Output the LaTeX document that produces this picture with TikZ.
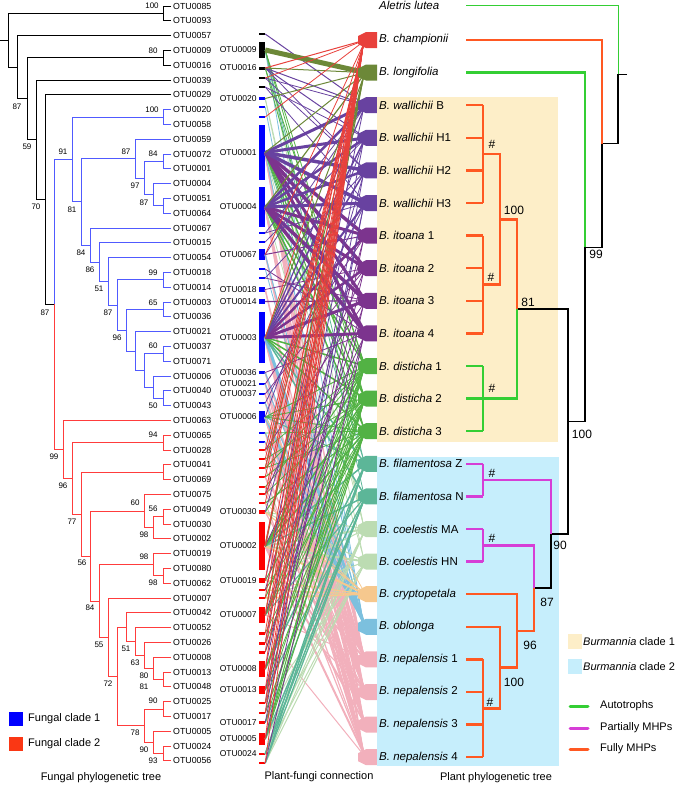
\documentclass[tikz,border=0pt]{standalone}
\usepackage{fontspec}
\setmainfont{Liberation Sans}
\definecolor{pRed}{RGB}{232,65,60}
\definecolor{pOlive}{RGB}{108,136,56}
\definecolor{pPur}{RGB}{104,66,160}
\definecolor{pIto}{RGB}{124,52,142}
\definecolor{pGrn}{RGB}{82,178,68}
\definecolor{pTeal}{RGB}{92,182,152}
\definecolor{pLgrn}{RGB}{188,220,178}
\definecolor{pOrg}{RGB}{246,200,142}
\definecolor{pBlu}{RGB}{124,192,222}
\definecolor{pPnk}{RGB}{242,176,188}
\definecolor{cBeige}{RGB}{253,238,200}
\definecolor{cSky}{RGB}{198,238,252}
\definecolor{tOrg}{RGB}{255,88,34}
\definecolor{tGrn}{RGB}{52,206,52}
\definecolor{tMag}{RGB}{214,62,214}
\definecolor{fBlu}{RGB}{80,90,255}
\definecolor{fRed}{RGB}{255,60,60}
\definecolor{bBlu}{RGB}{0,0,255}
\definecolor{bRed}{RGB}{255,0,0}
\definecolor{lRed}{RGB}{250,55,20}
\tikzset{
  kb/.style={draw=black, line width=0.9pt},
  kbl/.style={draw=fBlu, line width=1pt},
  kr/.style={draw=fRed, line width=1pt},
  otu/.style={anchor=west, inner sep=0pt, font=\fontsize{8.8}{10}\selectfont},
  bs/.style={inner sep=0pt, font=\fontsize{8}{9}\selectfont},
  mlab/.style={anchor=east, inner sep=0pt, font=\fontsize{8.5}{10}\selectfont},
  fbar/.style={rectangle, inner sep=0pt, minimum width=6pt, draw=none},
  lk/.style={line cap=butt},
  plab/.style={anchor=west, inner sep=0pt, font=\fontsize{11.5}{13}\selectfont},
  rt/.style={line width=2.4pt, line cap=butt, line join=miter},
  rk/.style={draw=black, line width=1.5pt, line join=miter},
  rbs/.style={inner sep=0pt, font=\fontsize{12}{14}\selectfont},
  leg/.style={anchor=west, inner sep=0pt, font=\fontsize{11}{13}\selectfont},
  ttl/.style={inner sep=0pt, font=\fontsize{11}{13}\selectfont},
}
\newcommand\brk[6]{\draw[#1] (#3,#4) -| (#2,#6) -- (#5,#6);}
% link: colour, width, fungal bar name, plant index
\newcommand\lnk[4]{%
  \pgfmathsetmacro\lkoff{max(-6,min(6,(\csname fy#3\endcsname-(40+32.6*#4))/40))}%
  \draw[lk,#1,line width=#2pt] (#3.east) -- ([yshift={-1*\lkoff}]p#4);}
\begin{document}
\begin{tikzpicture}[x=1pt,y=-1pt]
\useasboundingbox (0,0) rectangle (675,785);
% ---------------- fungal tree ----------------
\foreach \n [count=\i from 0] in {0085,0093,0057,0009,0016,0039,0029,0020,0058,0059,0072,0001,0004,0051,0064,0067,0015,0054,0018,0014,0003,0036,0021,0037,0071,0006,0040,0043,0063,0065,0028,0041,0069,0075,0049,0030,0002,0019,0080,0062,0007,0042,0052,0026,0008,0013,0048,0025,0017,0005,0024,0056}
  {\node[otu] (t\n) at (173,{6+14.8*\i}) {OTU\n};}
% black part
\brk{kb}{163}{171}{6}{171}{20.8}
\brk{kb}{163}{171}{50.4}{171}{65.2}
\brk{kb}{27}{163}{57.8}{36}{139.8}
\brk{kb}{36}{171}{80}{45}{199.6}
\brk{kb}{45}{171}{94.8}{54}{304.4}
\brk{kb}{17}{171}{35.6}{27}{98.8}
\brk{kb}{8}{163}{13.4}{17}{67.2}
\draw[kb] (0,40.3) -- (8,40.3);
\draw[kbl] (72,159.4) -| (54,304.4);
\draw[kr] (54,304.4) |- (63,449.4);
% blue clade
\brk{kbl}{163}{171}{109.6}{171}{124.4}
\brk{kbl}{163}{171}{154}{171}{168.8}
\brk{kbl}{163}{171}{198.4}{171}{213.2}
\brk{kbl}{153}{171}{183.6}{163}{205.8}
\brk{kbl}{144}{163}{161.4}{153}{194.7}
\brk{kbl}{135}{171}{139.2}{144}{178.05}
\brk{kbl}{163}{171}{272.4}{171}{287.2}
\brk{kbl}{163}{171}{302}{171}{316.8}
\brk{kbl}{163}{171}{346.4}{171}{361.2}
\brk{kbl}{163}{171}{390.8}{171}{405.6}
\brk{kbl}{153}{171}{376}{163}{398.2}
\brk{kbl}{144}{163}{353.8}{153}{387.1}
\brk{kbl}{135}{171}{331.6}{144}{370.45}
\brk{kbl}{126}{163}{309.4}{135}{351}
\brk{kbl}{117}{163}{279.8}{126}{330.2}
\brk{kbl}{108}{171}{257.6}{117}{305}
\brk{kbl}{99}{171}{242.8}{108}{281.3}
\brk{kbl}{90}{171}{228}{99}{262}
\brk{kbl}{81}{135}{158.6}{90}{245}
\brk{kbl}{72}{163}{117}{81}{201.8}
% red clade
\brk{kr}{163}{171}{435.2}{171}{450}
\brk{kr}{163}{171}{464.8}{171}{479.6}
\brk{kr}{163}{171}{509.2}{171}{524}
\brk{kr}{153}{163}{516.6}{171}{538.8}
\brk{kr}{144}{171}{494.4}{153}{527.7}
\brk{kr}{163}{171}{568.4}{171}{583.2}
\brk{kr}{153}{171}{553.6}{163}{575.8}
\brk{kr}{163}{171}{672}{171}{686.8}
\brk{kr}{153}{171}{657.2}{163}{679.4}
\brk{kr}{144}{171}{642.4}{153}{668.3}
\brk{kr}{135}{171}{627.6}{144}{655.3}
\brk{kr}{126}{171}{612.8}{135}{641.5}
\brk{kr}{163}{171}{701.6}{171}{716.4}
\brk{kr}{163}{171}{746}{171}{760.8}
\brk{kr}{153}{171}{731.2}{163}{753.4}
\brk{kr}{144}{163}{709}{153}{742.3}
\brk{kr}{117}{126}{627.2}{144}{725.7}
\brk{kr}{108}{171}{598}{117}{676.4}
\brk{kr}{99}{153}{564.7}{108}{637.2}
\brk{kr}{90}{144}{511}{99}{601}
\brk{kr}{81}{163}{472.2}{90}{556}
\brk{kr}{72}{163}{442.6}{81}{514.1}
\brk{kr}{63}{171}{420.4}{72}{478.4}
% bootstrap values
\foreach \x/\y/\t [count=\j] in {152/6/100,153/51/80,17/107/87,27/147/59,152/110/100,63/152/91,126/152/87,153/154/84,135/186/97,36/207/70,72/210/81,144/203/87,81/253/84,90/270/86,99/289/51,153/273/99,153/303/65,45/313/87,108/313/87,117/338/96,153/346/60,153/406/50,153/435/94,54/457/99,63/486/96,135/503/60,153/509/56,72/522/77,144/535/98,144/557/98,82/563/56,153/583/98,90/608/84,99/645/55,126/649/51,135/663/63,144/676/80,144/687/81,108/684/72,153/701/90,135/733/78,144/750/90,153/761/93}
  {\node[bs] (bs\j) at (\x,\y) {\t};}
% ---------------- fungal bars ----------------
\foreach \nm/\yy/\h/\c in {f1/34/2/black,f2/50/16/black,f3/68/3/black,f4/78/2/black,f5/87/2/black,f6/98.5/3/bBlu,f7/107/2/bBlu,f8/117/2/bBlu,f9/152.5/55/bBlu,f10/207/40/bBlu,f11/233/1.5/bBlu,f12/242/1.5/bBlu,f13/254.5/11/bBlu,f14/269/2/bBlu,f15/278/1.5/bBlu,f16/289.5/5/bBlu,f17/301.5/5/bBlu,f18/337.5/51/bBlu,f19/372.5/3/bBlu,f20/384/2.5/bBlu,f21/394/2.5/bBlu,f22/403/1.5/bBlu,f23/417/12/bBlu,f24/433/2/bBlu,f25/442/1.5/bBlu,f26/450/2/bRed,f27/459/2/bRed,f28/468/2.5/bRed,f29/477/2.5/bRed,f30/487/1.5/bRed,f31/494/2/bRed,f32/503/2/bRed,f33/512/3.5/bRed,f34/546/48/bRed,f35/580.5/5/bRed,f36/590/1.5/bRed,f37/598/2/bRed,f38/615/16/bRed,f39/633/3/bRed,f40/643/3/bRed,f41/652/3/bRed,f42/669/16/bRed,f43/690/8/bRed,f44/703/2.5/bRed,f45/713/2.5/bRed,f46/722.5/3/bRed,f47/739/12/bRed,f48/754/2.5/bRed,f49/763/2/bRed}
  {\node[fbar, fill=\c, minimum height=\h pt] (\nm) at (262,\yy) {};
   \expandafter\xdef\csname fy\nm\endcsname{\yy}}
\foreach \nm/\t in {f2/0009,f3/0016,f6/0020,f9/0001,f10/0004,f13/0067,f16/0018,f17/0014,f18/0003,f19/0036,f20/0021,f21/0037,f23/0006,f33/0030,f34/0002,f35/0019,f38/0007,f42/0008,f43/0013,f46/0017,f47/0005,f48/0024}
  {\node[mlab] (m\t) at ([xshift=-2pt]\nm.west) {OTU\t};}
% ---------------- plant anchor points ----------------
\foreach \k in {0,...,22} {\coordinate (p\k) at (363,{40+32.6*\k});}
% ---------------- links ----------------
\foreach \f/\w in {f9/1.5,f10/1.5,f18/2.5,f13/1.5,f19/1.5,f23/2,f25/1.2,f27/1.2,f29/1.2,f31/1.2,f34/2,f38/1} {\lnk{pPnk}{\w}{\f}{19}}
\foreach \f/\w in {f9/1.5,f10/1.5,f18/2.5,f13/1.2,f16/1.2,f20/1.5,f23/2,f26/1.2,f33/1.2,f34/2,f36/1} {\lnk{pPnk}{\w}{\f}{20}}
\foreach \f/\w in {f9/1.5,f10/1.5,f18/2.5,f16/1.2,f21/1.5,f22/1.2,f23/2,f25/1.2,f28/1.2,f30/1.2,f34/2} {\lnk{pPnk}{\w}{\f}{21}}
\foreach \f/\w in {f9/1.5,f10/1.5,f18/2.5,f19/1.2,f20/1.2,f24/1.2,f23/2,f29/1.2,f32/1.2,f34/2,f39/1} {\lnk{pPnk}{\w}{\f}{22}}
\foreach \f/\w in {f2/0.8,f7/0.8,f9/1,f13/1,f14/0.8,f18/3,f19/1,f22/1,f23/2.5,f24/1,f25/1,f20/1} {\lnk{pBlu}{\w}{\f}{18}}
\foreach \f/\w in {f2/0.8,f6/0.8,f9/0.8,f33/1,f34/2,f35/1,f46/1,f47/1,f48/1,f49/1} {\lnk{pLgrn}{\w}{\f}{15}}
\foreach \f/\w in {f6/0.8,f10/0.8,f34/2,f33/1,f37/1,f44/1,f47/1,f48/1,f49/1} {\lnk{pLgrn}{\w}{\f}{16}}
\foreach \f/\w in {f33/1.2,f34/2,f35/1.2,f36/1.2,f37/1.5,f32/0.8,f23/0.8} {\lnk{pOrg}{\w}{\f}{17}}
\foreach \f/\w in {f2/0.8,f9/0.8,f18/1.5,f34/1.5,f42/1.5,f46/1.2,f48/1.5,f49/1.5,f23/1} {\lnk{pTeal}{\w}{\f}{13}}
\foreach \f/\w in {f2/0.8,f18/1.5,f34/1.5,f38/1.2,f43/1.2,f47/1.5,f48/1.5,f49/1.2} {\lnk{pTeal}{\w}{\f}{14}}
\foreach \f/\w in {f2/0.8,f3/0.8,f9/1.5,f10/1.5,f18/1.5,f23/1,f26/0.8,f28/1,f30/0.8,f33/1,f34/1.5,f37/1,f38/1,f41/0.8,f43/1,f47/1} {\lnk{pGrn}{\w}{\f}{10}}
\foreach \f/\w in {f2/0.8,f9/1.2,f10/1.5,f18/1.5,f23/1,f27/0.8,f29/1,f31/0.8,f34/1.5,f35/1,f38/1,f40/0.8,f42/1,f44/0.8,f47/1,f46/0.8} {\lnk{pGrn}{\w}{\f}{11}}
\foreach \f/\w in {f3/0.8,f9/1,f10/1.2,f18/1.5,f23/1,f24/0.8,f28/0.8,f32/1,f34/1.5,f36/0.8,f38/1,f39/0.8,f42/1,f43/0.8,f45/1,f47/1} {\lnk{pGrn}{\w}{\f}{12}}
\foreach \f/\w in {f9/3.5,f10/3,f18/2.5,f13/1,f20/0.8,f36/0.8,f46/0.8} {\lnk{pIto}{\w}{\f}{6}}
\foreach \f/\w in {f9/3.5,f10/3,f18/2.5,f16/0.8,f21/0.8,f31/0.8,f43/0.8} {\lnk{pIto}{\w}{\f}{7}}
\foreach \f/\w in {f9/3,f10/3.5,f17/1.2,f18/3,f15/0.8,f26/0.8,f38/0.8,f47/0.8} {\lnk{pIto}{\w}{\f}{8}}
\foreach \f/\w in {f9/3,f10/3.5,f18/3,f14/0.8,f19/0.8,f34/0.8,f41/0.8,f49/0.8} {\lnk{pIto}{\w}{\f}{9}}
\foreach \f/\w in {f1/1,f3/1,f4/0.8,f9/3,f10/2.5,f13/0.8,f18/1.2,f11/0.8,f35/0.8} {\lnk{pPur}{\w}{\f}{2}}
\foreach \f/\w in {f3/1,f5/0.8,f9/3,f10/2.5,f12/0.8,f18/1.5,f40/0.8,f23/0.8} {\lnk{pPur}{\w}{\f}{3}}
\foreach \f/\w in {f3/0.8,f4/0.8,f9/3.5,f10/2.5,f18/1.5,f15/0.8,f44/0.8,f33/0.8} {\lnk{pPur}{\w}{\f}{4}}
\foreach \f/\w in {f5/0.8,f9/3.5,f10/3,f11/0.8,f18/2,f22/0.8,f42/0.8,f45/0.8} {\lnk{pPur}{\w}{\f}{5}}
\foreach \f/\w in {f2/5,f3/1,f6/1,f10/1.2,f18/1,f28/1,f34/1.5,f38/1,f9/1} {\lnk{pOlive}{\w}{\f}{1}}
\foreach \f/\w in {f3/1,f4/0.8,f8/0.8,f13/0.8,f18/0.8,f26/0.8,f27/0.8,f28/0.8,f29/0.8,f31/0.8,f32/0.8,f34/1.2,f35/0.8,f37/0.8,f38/1,f39/0.8,f40/0.8,f41/0.8,f42/1,f43/0.8,f44/0.8,f45/0.8,f47/1,f49/0.8} {\lnk{pRed}{\w}{\f}{0}}
% ---------------- plant bars ----------------
\foreach \k/\c in {0/pRed,1/pOlive,2/pPur,3/pPur,4/pPur,5/pPur,6/pIto,7/pIto,8/pIto,9/pIto,10/pGrn,11/pGrn,12/pGrn,13/pTeal,14/pTeal,15/pLgrn,16/pLgrn,17/pOrg,18/pBlu,19/pPnk,20/pPnk,21/pPnk,22/pPnk}
  {\fill[\c] (358,{40+32.6*\k-4}) -- (366,{40+32.6*\k-8}) -- (377,{40+32.6*\k-8}) -- (377,{40+32.6*\k+8}) -- (366,{40+32.6*\k+8}) -- (358,{40+32.6*\k+4}) -- cycle;}
% ---------------- clade boxes ----------------
\fill[cBeige] (377,97) rectangle (558,442);
\fill[cSky] (377,457) rectangle (559,766);
% ---------------- plant labels ----------------
\node[plab] (aletris) at (379,5) {\textit{Aletris lutea}};
\foreach \k/\t in {0/{\textit{B. championii}},1/{\textit{B. longifolia}},2/{\textit{B. wallichii} B},3/{\textit{B. wallichii} H1},4/{\textit{B. wallichii} H2},5/{\textit{B. wallichii} H3},6/{\textit{B. itoana} 1},7/{\textit{B. itoana} 2},8/{\textit{B. itoana} 3},9/{\textit{B. itoana} 4},10/{\textit{B. disticha} 1},11/{\textit{B. disticha} 2},12/{\textit{B. disticha} 3},13/{\textit{B. filamentosa} Z},14/{\textit{B. filamentosa} N},15/{\textit{B. coelestis} MA},16/{\textit{B. coelestis} HN},17/{\textit{B. cryptopetala}},18/{\textit{B. oblonga}},19/{\textit{B. nepalensis} 1},20/{\textit{B. nepalensis} 2},21/{\textit{B. nepalensis} 3},22/{\textit{B. nepalensis} 4}}
  {\node[plab] (pl\k) at (379,{40+32.6*\k}) {\t};}
% ---------------- plant tree ----------------
\draw[tGrn, line width=1pt] (466,5) -| (618,74.3);
\draw[rk] (627,74.3) -- (618,74.3) -- (618,143.6) -- (602,143.6);
\draw[rt, tOrg] (466,40) -| (602,143.6);
\draw[rk] (602,143.6) |- (585,247.3);
\draw[rt, tGrn] (466,72.6) -| (585,247.3);
\draw[rk] (585,247.3) |- (568,421.6);
\draw[rk] (517,309) -| (568,534.1) -- (551,534.1);
\draw[rt, tOrg] (500,219.3) -| (517,309);
\draw[rt, tGrn] (517,309) |- (483,398.6);
\draw[rt, tOrg] (483,154.1) -| (500,284.5) -- (483,284.5);
\foreach \k in {2,...,9} {\draw[rt, tOrg] (466,{40+32.6*\k}) -- (483,{40+32.6*\k});}
\draw[rt, tOrg] (483,105.2) -- (483,203);
\draw[rt, tOrg] (483,235.6) -- (483,333.4);
\foreach \k in {10,11,12} {\draw[rt, tGrn] (466,{40+32.6*\k}) -- (483,{40+32.6*\k});}
\draw[rt, tGrn] (483,366) -- (483,431.2);
\foreach \k in {13,...,16} {\draw[rt, tMag] (466,{40+32.6*\k}) -- (483,{40+32.6*\k});}
\draw[rt, tMag] (483,463.8) -- (483,496.4);
\draw[rt, tMag] (483,529) -- (483,561.6);
\draw[rt, tMag] (483,480.1) -| (551,534.1);
\draw[rk] (551,534.1) |- (534,588.1);
\draw[rt, tMag] (483,545.3) -| (534,588.1);
\draw[rt, tOrg] (534,588.1) |- (517,630.9);
\draw[rt, tOrg] (466,594.2) -| (517,667.6) -- (500,667.6);
\draw[rt, tOrg] (466,626.8) -| (500,708.3) -- (483,708.3);
\foreach \k in {19,...,22} {\draw[rt, tOrg] (466,{40+32.6*\k}) -- (483,{40+32.6*\k});}
\draw[rt, tOrg] (483,659.4) -- (483,757.2);
\foreach \x/\y/\t [count=\j] in {514/210/100,596/254/99,528/302/81,582/434/100,560/545/90,547/602/87,530/645/96,514/682/100,492/144/\#,491/277/\#,492/388/\#,492/473/\#,492/538/\#,490/702/\#}
  {\node[rbs] (rb\j) at (\x,\y) {\t};}
% ---------------- legends ----------------
\node[fill=cBeige, minimum width=14pt, minimum height=15pt, inner sep=0pt] (lgA) at (575,641.5) {};
\node[leg] (lgAt) at (583,642) {\textit{Burmannia} clade 1};
\node[fill=cSky, minimum width=14pt, minimum height=15pt, inner sep=0pt] (lgB) at (575,666.5) {};
\node[leg] (lgBt) at (583,667) {\textit{Burmannia} clade 2};
\draw[tGrn, line width=3pt, line cap=round] (570,706) -- (588,706);
\node[leg] (lgC) at (600,706) {Autotrophs};
\draw[tMag, line width=3pt, line cap=round] (570,728) -- (588,728);
\node[leg] (lgD) at (600,728) {Partially MHPs};
\draw[tOrg, line width=3pt, line cap=round] (570,749) -- (588,749);
\node[leg] (lgE) at (600,749) {Fully MHPs};
\node[fill=bBlu, minimum width=14pt, minimum height=14pt, inner sep=0pt] (lgF) at (16,719) {};
\node[leg] (lgFt) at (28,719) {Fungal clade 1};
\node[fill=lRed, minimum width=14pt, minimum height=14pt, inner sep=0pt] (lgG) at (16,744) {};
\node[leg] (lgGt) at (28,744) {Fungal clade 2};
\node[ttl] (ttl1) at (101,778) {Fungal phylogenetic tree};
\node[ttl] (ttl2) at (319,777) {Plant-fungi connection};
\node[ttl] (ttl3) at (496,778) {Plant phylogenetic tree};
\end{tikzpicture}
\end{document}
